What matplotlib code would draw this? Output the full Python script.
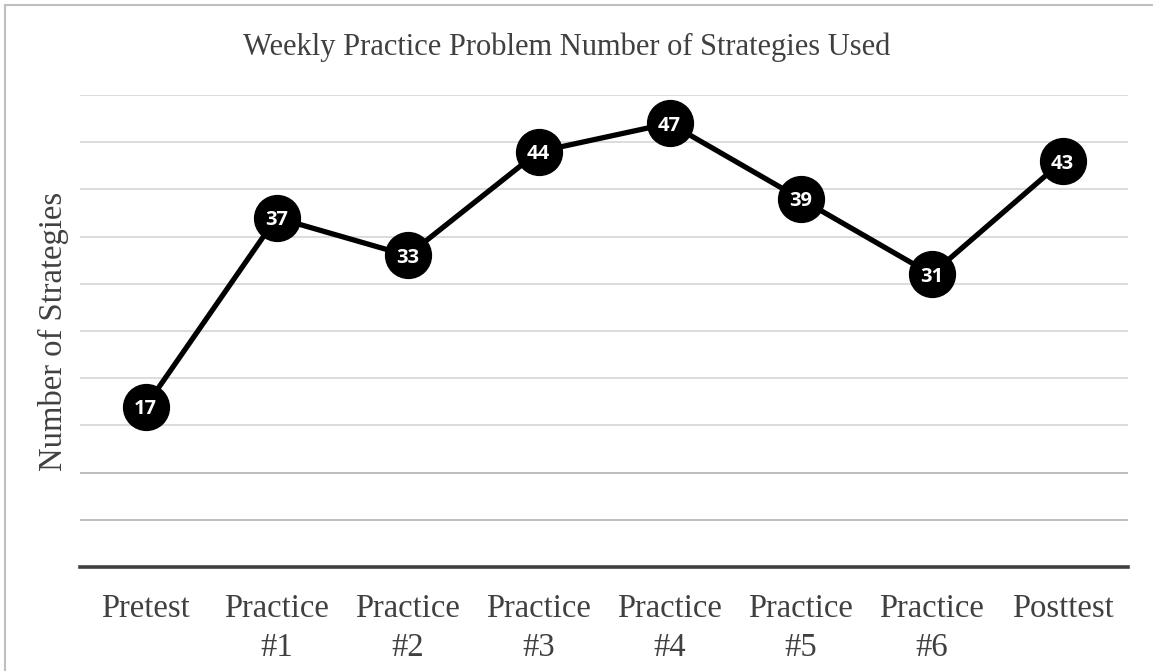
import matplotlib
matplotlib.use("Agg")
import matplotlib.pyplot as plt
from matplotlib.patches import Rectangle

categories = ["Pretest", "Practice\n#1", "Practice\n#2", "Practice\n#3",
              "Practice\n#4", "Practice\n#5", "Practice\n#6", "Posttest"]
strategies = [17, 37, 33, 44, 47, 39, 31, 43]
grid_levels = [5, 10, 15, 20, 25, 30, 35, 40, 45, 50]

fig = plt.figure(figsize=(11.53, 6.71), dpi=100)
ax = fig.add_axes([80 / 1153, 1 - 567 / 671, 1048 / 1153, 472 / 671])

# chart border
fig.patches.append(Rectangle((5 / 1153, -0.1), 1.2, 1 - 5 / 671 + 0.1,
                             transform=fig.transFigure, fill=False,
                             edgecolor="#bfbfbf", linewidth=1.5))

for g in grid_levels:
    col = "#b0b0b0" if g <= 10 else "#d6d6d6"
    ax.axhline(g, color=col, linewidth=1.2, zorder=1)

x = list(range(len(categories)))
ax.plot(x, strategies, color="black", linewidth=3.8, marker="o",
        markersize=33, markerfacecolor="black", markeredgecolor="black",
        zorder=3, clip_on=False)
for xi, v in zip(x, strategies):
    ax.text(xi, v, str(v), color="white", fontsize=14.5, fontweight="bold",
            family="Open Sans", ha="center", va="center_baseline", zorder=4)

ax.set_xlim(-0.5, len(categories) - 0.5)
ax.set_ylim(0, 50)
ax.set_yticks([])
ax.set_xticks(x)
ax.set_xticklabels(categories, family="Liberation Serif", fontsize=23.5,
                   color="#404040", linespacing=1.35)
ax.tick_params(axis="x", length=0, pad=19)
for s in ["top", "right", "left"]:
    ax.spines[s].set_visible(False)
ax.spines["bottom"].set_color("#404040")
ax.spines["bottom"].set_linewidth(2.6)

ax.set_ylabel("Number of Strategies", family="Liberation Serif",
              fontsize=23.5, color="#404040", labelpad=8)
fig.text(567 / 1153, 1 - 47 / 671,
         "Weekly Practice Problem Number of Strategies Used",
         family="Liberation Serif", fontsize=22, color="#404040",
         ha="center", va="center")

fig.savefig("out.png", dpi=100)
